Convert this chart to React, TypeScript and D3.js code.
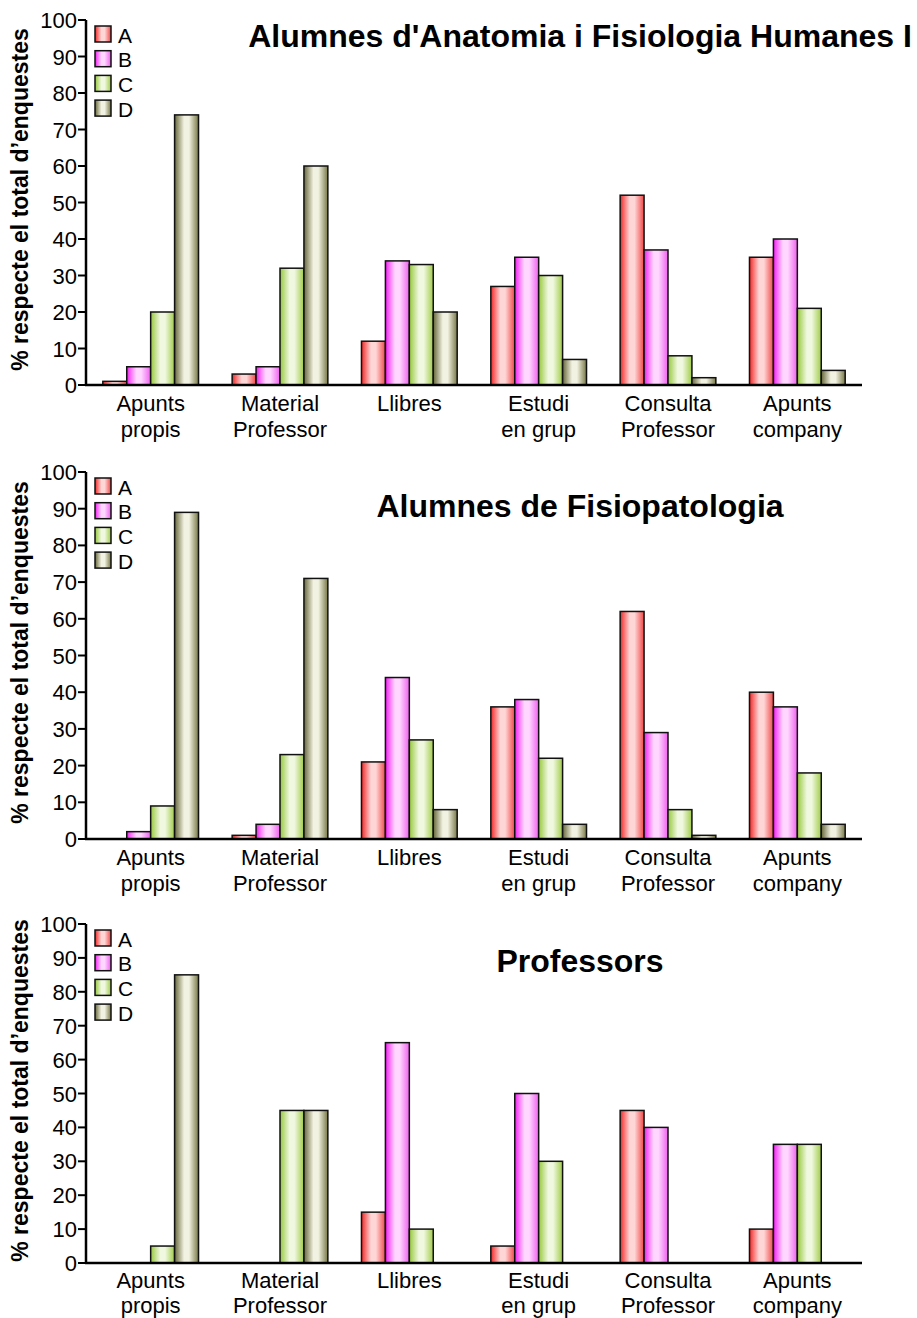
import * as d3 from 'd3'

const CATEGORIES = [
  ['Apunts', 'propis'],
  ['Material', 'Professor'],
  ['Llibres', ''],
  ['Estudi', 'en grup'],
  ['Consulta', 'Professor'],
  ['Apunts', 'company'],
]
const SERIES = ['A', 'B', 'C', 'D']
const Y_TICKS = [0, 10, 20, 30, 40, 50, 60, 70, 80, 90, 100]

// values per category: [A, B, C, D]
const ANATOMIA = [
  [1, 5, 20, 74],
  [3, 5, 32, 60],
  [12, 34, 33, 20],
  [27, 35, 30, 7],
  [52, 37, 8, 2],
  [35, 40, 21, 4],
]
const FISIOPATOLOGIA = [
  [0, 2, 9, 89],
  [1, 4, 23, 71],
  [21, 44, 27, 8],
  [36, 38, 22, 4],
  [62, 29, 8, 1],
  [40, 36, 18, 4],
]
const PROFESSORS = [
  [0, 0, 5, 85],
  [0, 0, 45, 45],
  [15, 65, 10, 0],
  [5, 50, 30, 0],
  [45, 40, 0, 0],
  [10, 35, 35, 0],
]

const GRADS = [
  { edge: '#f02828', mid: '#ffd6d6', right: '#f04848' },
  { edge: '#f020f0', mid: '#ffd6ff', right: '#f060f0' },
  { edge: '#96c83c', mid: '#f0f8e0', right: '#a0cc48' },
  { edge: '#66663a', mid: '#f2f2e2', right: '#787848' },
]

const PANELS = [
  { title: "Alumnes d'Anatomia i Fisiologia Humanes I", data: ANATOMIA, top: 20, bottom: 385, titleY: 47, lh: 26 },
  { title: 'Alumnes de Fisiopatologia', data: FISIOPATOLOGIA, top: 472, bottom: 839, titleY: 517, lh: 26 },
  { title: 'Professors', data: PROFESSORS, top: 924, bottom: 1263, titleY: 972, lh: 25 },
]

const W = 917
const H = 1318
const X0 = 86
const X1 = 862
const FONT = 'Liberation Sans, Arial, sans-serif'

function Panel({ p }: { p: typeof PANELS[number] }) {
  const x = d3.scaleBand<number>().domain(d3.range(CATEGORIES.length)).range([X0, X1]).paddingInner(0.26).paddingOuter(0.13)
  const xs = d3.scaleBand<number>().domain(d3.range(SERIES.length)).range([0, x.bandwidth()])
  const y = d3.scaleLinear().domain([0, 100]).range([p.bottom, p.top])
  const mid = (p.top + p.bottom) / 2
  return (
    <g>
      <text x={580} y={p.titleY} textAnchor="middle" fontSize={32} fontWeight="bold" fontFamily={FONT}>{p.title}</text>
      <text transform={`translate(28,${mid - 3}) rotate(-90)`} textAnchor="middle" fontSize={23} fontWeight="bold" fontFamily={FONT}>
        % respecte el total d’enquestes
      </text>
      {p.data.map((vals, ci) =>
        vals.map((v, si) =>
          v > 0 ? (
            <rect key={`${ci}-${si}`} x={(x(ci) ?? 0) + (xs(si) ?? 0)} y={y(v)} width={xs.bandwidth()} height={y(0) - y(v)}
              fill={`url(#g${si})`} stroke="#111" strokeWidth={1.5} />
          ) : null
        )
      )}
      <line x1={X0} x2={X0} y1={p.top} y2={p.bottom} stroke="#000" strokeWidth={2.5} />
      <line x1={X0 - 1} x2={X1} y1={p.bottom} y2={p.bottom} stroke="#000" strokeWidth={2.5} />
      {Y_TICKS.map(t => (
        <g key={t}>
          <line x1={X0 - 8} x2={X0} y1={y(t)} y2={y(t)} stroke="#000" strokeWidth={2} />
          <text x={X0 - 9} y={y(t) + 8} textAnchor="end" fontSize={22} fontFamily={FONT}>{t}</text>
        </g>
      ))}
      {CATEGORIES.map((c, ci) => (
        <text key={ci} x={(x(ci) ?? 0) + x.bandwidth() / 2} textAnchor="middle" fontSize={22} fontFamily={FONT}>
          <tspan x={(x(ci) ?? 0) + x.bandwidth() / 2} y={p.bottom + p.lh}>{c[0]}</tspan>
          <tspan x={(x(ci) ?? 0) + x.bandwidth() / 2} y={p.bottom + p.lh * 2}>{c[1]}</tspan>
        </text>
      ))}
      {SERIES.map((s, si) => (
        <g key={s} transform={`translate(95,${p.top + 6 + si * 24.7})`}>
          <rect x={0} y={0} width={16} height={16} fill={`url(#g${si})`} stroke="#111" strokeWidth={1.5} />
          <text x={23} y={16.5} fontSize={21} fontFamily={FONT}>{s}</text>
        </g>
      ))}
    </g>
  )
}

export default function App() {
  return (
    <svg width={W} height={H} style={{ position: 'absolute', left: 0, top: 0, background: '#fff' }}>
      <defs>
        {GRADS.map((g, i) => (
          <linearGradient key={i} id={`g${i}`} x1="0" x2="1" y1="0" y2="0">
            <stop offset="0%" stopColor={g.edge} />
            <stop offset="40%" stopColor={g.mid} />
            <stop offset="60%" stopColor={g.mid} />
            <stop offset="100%" stopColor={g.right} />
          </linearGradient>
        ))}
      </defs>
      {PANELS.map((p, i) => <Panel key={i} p={p} />)}
    </svg>
  )
}
